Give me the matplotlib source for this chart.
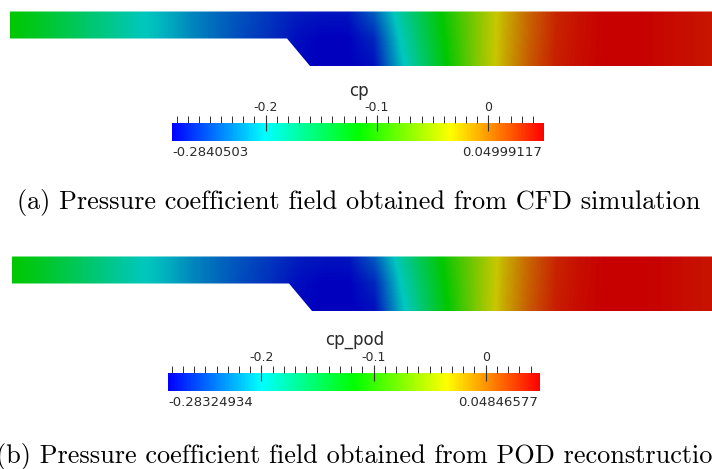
import numpy as np
import matplotlib
matplotlib.use("Agg")
import matplotlib.pyplot as plt
from matplotlib.colors import LinearSegmentedColormap, Normalize
from matplotlib.cm import ScalarMappable
from matplotlib.patches import Polygon

# ---------------- data ----------------
# cp values along the channel at equally spaced stations (left -> right),
# sampled on three rows: top wall, mid height, bottom wall
cp_top = [-0.1170, -0.1304, -0.1471, -0.1638, -0.1805, -0.1972, -0.2106, -0.2273,
          -0.2406, -0.2506, -0.2607, -0.2707, -0.2740, -0.2740, -0.2440, -0.1872,
          -0.1421, -0.0993, -0.0613, -0.0235, 0.0082, 0.0333, 0.0433, 0.0500,
          0.0500, 0.0466, 0.0433, 0.0400]
cp_mid = [-0.1170, -0.1304, -0.1471, -0.1638, -0.1805, -0.1972, -0.2106, -0.2273,
          -0.2406, -0.2540, -0.2640, -0.2774, -0.2840, -0.2840, -0.2673, -0.2005,
          -0.1504, -0.1037, -0.0613, -0.0218, 0.0099, 0.0350, 0.0440, 0.0500,
          0.0500, 0.0466, 0.0433, 0.0400]
cp_bot = [-0.1170, -0.1304, -0.1471, -0.1638, -0.1805, -0.1972, -0.2106, -0.2273,
          -0.2406, -0.2540, -0.2640, -0.2807, -0.2840, -0.2840, -0.2774, -0.2106,
          -0.1588, -0.1080, -0.0609, -0.0202, 0.0132, 0.0366, 0.0450, 0.0500,
          0.0500, 0.0466, 0.0433, 0.0400]

cppod_top = [-0.1175, -0.1308, -0.1474, -0.1640, -0.1806, -0.1972, -0.2105, -0.2270,
             -0.2403, -0.2503, -0.2603, -0.2703, -0.2735, -0.2735, -0.2437, -0.1870,
             -0.1420, -0.0995, -0.0615, -0.0238, 0.0078, 0.0328, 0.0425, 0.0485,
             0.0485, 0.0460, 0.0428, 0.0395]
cppod_mid = [-0.1175, -0.1308, -0.1474, -0.1640, -0.1806, -0.1972, -0.2105, -0.2270,
             -0.2403, -0.2537, -0.2636, -0.2769, -0.2832, -0.2832, -0.2668, -0.2003,
             -0.1503, -0.1038, -0.0615, -0.0220, 0.0095, 0.0345, 0.0432, 0.0485,
             0.0485, 0.0460, 0.0428, 0.0395]
cppod_bot = [-0.1175, -0.1308, -0.1474, -0.1640, -0.1806, -0.1972, -0.2105, -0.2270,
             -0.2403, -0.2537, -0.2636, -0.2802, -0.2832, -0.2832, -0.2769, -0.2104,
             -0.1586, -0.1080, -0.0610, -0.0205, 0.0128, 0.0360, 0.0440, 0.0485,
             0.0485, 0.0460, 0.0428, 0.0395]

cp_range = (-0.2840503, 0.04999117)
cppod_range = (-0.28324934, 0.04846577)
major_ticks = [-0.2, -0.1, 0.0]
major_labels = ["-0.2", "-0.1", "0"]

captions = ["(a) Pressure coefficient field obtained from CFD simulation",
            "(b) Pressure coefficient field obtained from POD reconstruction"]
titles = ["cp", "cp_pod"]

# ---------------- style ----------------
bar_cmap = LinearSegmentedColormap.from_list(
    "pv_rainbow", [(0, 0, 1), (0, 1, 1), (0, 1, 0), (1, 1, 0), (1, 0, 0)])
field_cmap = LinearSegmentedColormap.from_list(
    "pv_rainbow_lit", [(0, 0, 0.745), (0, 0.784, 0.745), (0, 0.784, 0),
                       (0.784, 0.784, 0), (0.784, 0.0, 0.0)])

W, H = 712, 469
fig = plt.figure(figsize=(W / 100, H / 100), dpi=100)
ax = fig.add_axes([0, 0, 1, 1])
ax.set_xlim(0, W)
ax.set_ylim(H, 0)
ax.axis("off")

txt_col = "#2a2a2a"


def draw_panel(rows, vrange, left, top, step0, step1, h_in, h_out,
               bar_box, title, title_y, tick_lab_pad, caption, cap_y, cap_x):
    data = np.array(rows)
    ncol = data.shape[1]
    x_right = W
    dx = (x_right - left) / (ncol - 1)
    dy = h_out / (data.shape[0] - 1)
    norm = Normalize(*vrange)
    im = ax.imshow(data, cmap=field_cmap, norm=norm, interpolation="bilinear",
                   interpolation_stage="data", aspect="auto", origin="upper",
                   extent=(left - dx / 2, x_right + dx / 2,
                           top + h_out + dy / 2, top - dy / 2))
    poly = Polygon([(left, top), (x_right + 5, top), (x_right + 5, top + h_out),
                    (step1, top + h_out), (step0, top + h_in), (left, top + h_in)],
                   closed=True, transform=ax.transData, facecolor="none",
                   edgecolor="none")
    ax.add_patch(poly)
    im.set_clip_path(poly)

    # colour bar
    bx0, by0, bw, bh = bar_box
    cax = fig.add_axes([bx0 / W, 1 - (by0 + bh) / H, bw / W, bh / H])
    cb = fig.colorbar(ScalarMappable(norm=norm, cmap=bar_cmap), cax=cax,
                      orientation="horizontal")
    cb.outline.set_visible(False)
    cax.xaxis.set_ticks_position("top")
    cax.set_xticks(major_ticks)
    cax.set_xticklabels(major_labels)
    cax.set_xticks(np.arange(-0.28, vrange[1], 0.01), minor=True)
    cax.tick_params(axis="x", which="major", direction="inout", length=11,
                    width=0.8, color="#303030", labelsize=9, pad=tick_lab_pad,
                    labelcolor=txt_col)
    cax.tick_params(axis="x", which="minor", direction="out", length=5.2,
                    width=0.7, color="#303030")
    cax.tick_params(axis="x", which="both", bottom=False, labelbottom=False)
    cax.tick_params(axis="y", which="both", left=False, right=False,
                    labelleft=False, labelright=False)

    ax.text(bx0 + bw / 2 + 1, title_y, title, ha="center", va="center",
            fontsize=12, color=txt_col, family="DejaVu Sans")
    ax.text(bx0, by0 + bh + 12, f"{vrange[0]:.8g}", ha="left", va="center",
            fontsize=9.5, color=txt_col)
    ax.text(bx0 + bw - 2, by0 + bh + 12, f"{vrange[1]:.8g}", ha="right",
            va="center", fontsize=9.5, color=txt_col)

    ax.text(cap_x, cap_y, caption, ha="center", va="baseline",
            fontsize=18.9, family="cmr10", color="black")


draw_panel([cp_top, cp_mid, cp_bot], cp_range, left=10, top=11.5, step0=287,
           step1=310, h_in=27, h_out=54.5, bar_box=(172, 123, 372, 18),
           title=titles[0], title_y=91, tick_lab_pad=1, caption=captions[0],
           cap_y=209, cap_x=359)
draw_panel([cppod_top, cppod_mid, cppod_bot], cppod_range, left=12, top=256.5,
           step0=289, step1=312, h_in=27, h_out=54.5, bar_box=(168, 373, 372, 18),
           title=titles[1], title_y=340, tick_lab_pad=1, caption=captions[1],
           cap_y=462.5, cap_x=361)

fig.savefig("out.png", dpi=100)
